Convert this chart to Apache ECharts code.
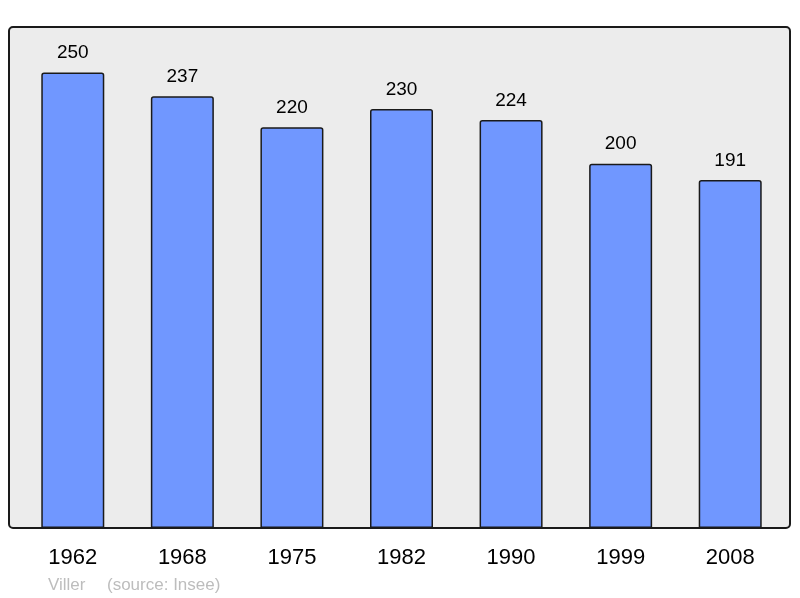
<!DOCTYPE html>
<html>
<head>
<meta charset="utf-8">
<script src="https://cdn.jsdelivr.net/npm/echarts@6/dist/echarts.min.js"></script>
<style>
  html, body { margin: 0; padding: 0; background: #fff; }
  #chart { width: 800px; height: 598px; }
</style>
</head>
<body>
<div id="chart"></div>
<script>
// recensements
const years = ['1962', '1968', '1975', '1982', '1990', '1999', '2008']
const population = [250, 237, 220, 230, 224, 200, 191]
const commune = 'Viller'
const source = '(source: Insee)'

const chart = echarts.init(document.getElementById('chart'))
const font = 'Liberation Sans, Arial, sans-serif'

const option = {
  animation: false,
  textStyle: { fontFamily: font },
  grid: { left: 18, right: 15, top: 27, bottom: 70 },
  graphic: [
    {
      // fond gris avec cadre arrondi
      type: 'rect',
      z: -10,
      shape: { x: 9, y: 27, width: 781, height: 501, r: 4 },
      style: { fill: '#ececec', stroke: '#1a1a1a', lineWidth: 2 }
    },
    {
      type: 'text',
      left: 48,
      top: 577,
      style: { text: commune, fill: '#bdbdbd', fontSize: 17, fontFamily: font }
    },
    {
      type: 'text',
      left: 107,
      top: 577,
      style: { text: source, fill: '#bdbdbd', fontSize: 17, fontFamily: font }
    }
  ],
  xAxis: {
    type: 'category',
    data: years,
    axisLine: { show: false },
    axisTick: { show: false },
    axisLabel: { color: '#000', fontSize: 22, margin: 19 }
  },
  yAxis: {
    type: 'value',
    min: 0,
    max: 275,
    show: false
  },
  series: [
    {
      type: 'bar',
      data: population,
      barWidth: 63,
      itemStyle: {
        color: '#7097ff',
        borderColor: '#1a1a1a',
        borderWidth: 1.5,
        borderRadius: [2, 2, 0, 0]
      },
      label: {
        show: true,
        position: 'top',
        distance: 10,
        color: '#000',
        fontSize: 19
      }
    }
  ]
}

chart.setOption(option)
</script>
</body>
</html>
